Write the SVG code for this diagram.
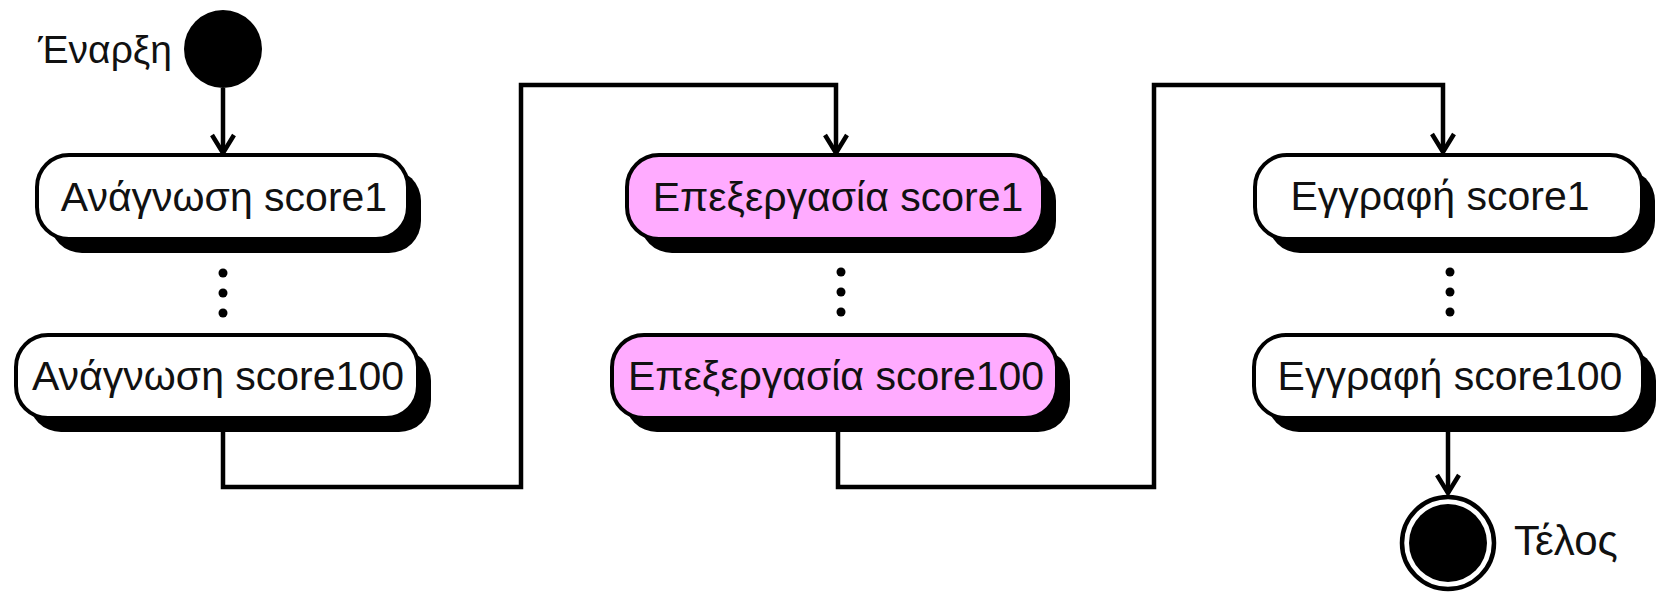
<svg xmlns="http://www.w3.org/2000/svg" width="1660" height="594" viewBox="0 0 1660 594">
<style>
.shadow{fill:#000}
.box{fill:#fff;stroke:#000;stroke-width:4}
.pink{fill:#ffabff}
.lbl{font-family:"Liberation Sans",Arial,sans-serif;font-size:41px;fill:#111;text-anchor:middle}
.plain{font-family:"Liberation Sans",Arial,sans-serif;font-size:39px;fill:#111}
.edge{fill:none;stroke:#000;stroke-width:4.5;stroke-linejoin:miter}
.dot{fill:#000}
</style>
<defs>
<marker id="arr" markerUnits="userSpaceOnUse" viewBox="-22 -14 26 28" refX="0" refY="0" markerWidth="26" markerHeight="28" orient="auto">
<path d="M-18,-11 L0,0 L-18,11" fill="none" stroke="#000" stroke-width="4.5"/>
</marker>
</defs>
<rect width="1660" height="594" fill="#fff"/>
<g id="connectors">
<path class="edge" d="M223,88 L223,153" marker-end="url(#arr)"/>
<path class="edge" d="M223,418 L223,487 L521,487 L521,85 L836,85 L836,153" marker-end="url(#arr)"/>
<path class="edge" d="M838,418 L838,487 L1154,487 L1154,85 L1443,85 L1443,152" marker-end="url(#arr)"/>
<path class="edge" d="M1448,418 L1448,493" marker-end="url(#arr)"/>
</g>
<g id="start">
<circle cx="223" cy="49" r="39" fill="#000"/>
<text class="plain" x="38" y="63">Έναρξη</text>
</g>
<g id="read1">
<rect class="shadow" x="50" y="169" width="371" height="84" rx="32"/>
<rect class="box" x="37" y="155" width="371" height="84" rx="32"/>
<text class="lbl" x="224" y="211">Ανάγνωση score1</text>
</g>
<g id="readdots">
<circle class="dot" cx="223" cy="273" r="4.5"/>
<circle class="dot" cx="223" cy="293" r="4.5"/>
<circle class="dot" cx="223" cy="313" r="4.5"/>
</g>
<g id="read100">
<rect class="shadow" x="29" y="349" width="402" height="83" rx="32"/>
<rect class="box" x="16" y="335" width="402" height="83" rx="32"/>
<text class="lbl" x="218" y="390">Ανάγνωση score100</text>
</g>
<g id="proc1">
<rect class="shadow" x="640" y="169" width="416" height="84" rx="32"/>
<rect class="box pink" x="627" y="155" width="416" height="84" rx="32"/>
<text class="lbl" x="838" y="211">Επεξεργασία score1</text>
</g>
<g id="procdots">
<circle class="dot" cx="841" cy="272" r="4.5"/>
<circle class="dot" cx="841" cy="292" r="4.5"/>
<circle class="dot" cx="841" cy="312" r="4.5"/>
</g>
<g id="proc100">
<rect class="shadow" x="625" y="349" width="445" height="83" rx="32"/>
<rect class="box pink" x="612" y="335" width="445" height="83" rx="32"/>
<text class="lbl" x="836" y="390">Επεξεργασία score100</text>
</g>
<g id="write1">
<rect class="shadow" x="1268" y="169" width="387" height="84" rx="32"/>
<rect class="box" x="1255" y="155" width="387" height="84" rx="32"/>
<text class="lbl" x="1440" y="210">Εγγραφή score1</text>
</g>
<g id="writedots">
<circle class="dot" cx="1450" cy="272" r="4.5"/>
<circle class="dot" cx="1450" cy="292" r="4.5"/>
<circle class="dot" cx="1450" cy="312" r="4.5"/>
</g>
<g id="write100">
<rect class="shadow" x="1267" y="349" width="389" height="83" rx="32"/>
<rect class="box" x="1254" y="335" width="389" height="83" rx="32"/>
<text class="lbl" x="1450" y="390">Εγγραφή score100</text>
</g>
<g id="end">
<circle cx="1448" cy="543" r="46" fill="#fff" stroke="#000" stroke-width="4.5"/>
<circle cx="1448" cy="543" r="39" fill="#000"/>
<text class="plain" x="1514" y="555" style="font-size:42px">Τέλος</text>
</g>
</svg>
